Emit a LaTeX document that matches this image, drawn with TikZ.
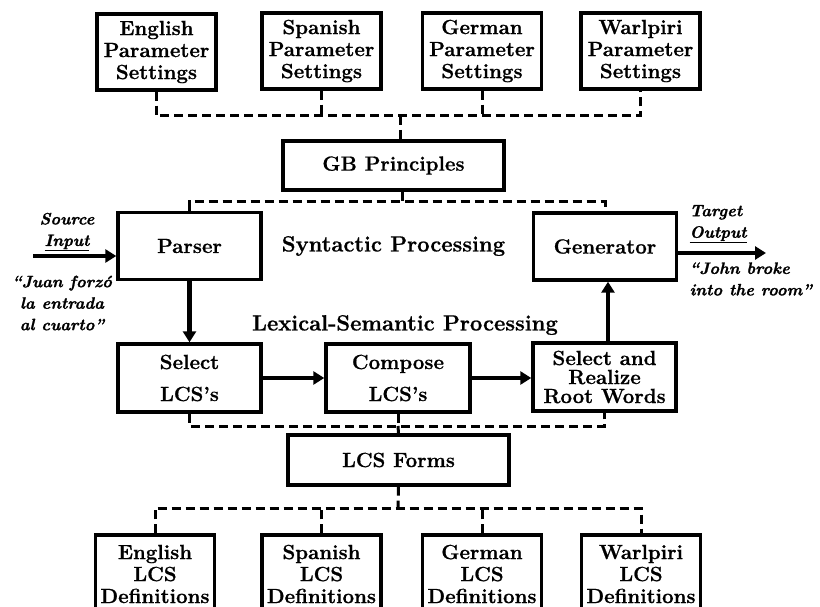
\documentclass[tikz,border=0pt]{standalone}
\usepackage{fontspec}
\setmainfont{Latin Modern Roman}[BoldFeatures={FakeBold=0.8},BoldItalicFeatures={FakeBold=1.2}]
\usetikzlibrary{arrows.meta}
\begin{document}
\begin{tikzpicture}[x=1pt,y=-1pt,
  box/.style={draw, line width=3.4pt, inner sep=0pt, align=center,
    font=\fontsize{20.5}{22}\selectfont\bfseries},
  langbox/.style={box, minimum width=119pt, minimum height=76pt},
  wide/.style={box, minimum width=221pt, minimum height=50pt},
  proc/.style={box, minimum width=143pt, minimum height=67pt},
  bus/.style={line width=3pt, dash pattern=on 9pt off 5pt},
  flow/.style={line width=4.6pt, -{Triangle[length=11pt,width=13pt]}},
  stage/.style={font=\fontsize{22}{24}\selectfont\bfseries},
  note/.style={align=center, font=\fontsize{16.5}{21.5}\selectfont\bfseries\itshape}]
\useasboundingbox (0,0) rectangle (820,607);
\clip (0,0) rectangle (820,607);

% parameter settings per language
\node[langbox] (ep) at (156.5,52) {English\\Parameter\\Settings};
\node[langbox] (sp) at (321.5,51) {Spanish\\Parameter\\Settings};
\node[langbox] (gp) at (482,51) {German\\Parameter\\Settings};
\node[langbox] (wp) at (640.5,51) {Warlpiri\\Parameter\\Settings};

\node[wide, minimum height=49pt] (gb) at (393.5,165.5) {GB Principles};

% syntactic level
\node[proc] (parser) at (189.5,246) {Parser};
\node[proc] (gen) at (605,246.5) {Generator};
\node[stage] (syn) at (393.5,246) {Syntactic Processing};

% lexical-semantic level
\node[stage] (lex) at (405,325) {Lexical-Semantic Processing};
\node[proc, minimum height=68pt] (sel) at (189.5,378) {Select\\[10pt]LCS’s};
\node[proc, minimum width=144pt, minimum height=68pt] (comp) at (398,378) {Compose\\[10pt]LCS’s};
\node[proc, minimum height=68pt] (real) at (604.5,377) {Select and\\[-3pt]Realize\\[-3pt]Root Words};

\node[wide] (forms) at (398.5,460) {LCS Forms};

% LCS definitions per language
\node[langbox, minimum height=78pt] (ed) at (155,574) {English\\LCS\\Definitions};
\node[langbox, minimum height=78pt] (sd) at (321.5,574) {Spanish\\LCS\\Definitions};
\node[langbox, minimum height=78pt] (gd) at (482,574) {German\\LCS\\Definitions};
\node[langbox, minimum height=78pt] (wd) at (641,574) {Warlpiri\\LCS\\Definitions};

% dashed links
\coordinate (tb) at (400,116);
\draw[bus] (ep.south) |- (tb) -| (wp.south);
\draw[bus] (sp.south) -- (sp.south |- tb);
\draw[bus] (gp.south) -- (gp.south |- tb);
\draw[bus] (tb) -- (tb |- gb.north);

\coordinate (mb) at (402,202);
\draw[bus] (mb |- gb.south) -- (mb);
\draw[bus] (parser.north) |- (mb) -| (gen.north);

\coordinate (lb) at (398,426);
\draw[bus] (sel.south) |- (lb) -| (real.south);
\draw[bus] (comp.south) -- (lb);
\draw[bus] (lb) -- (forms.north);

\coordinate (bb) at (398,508);
\draw[bus] (forms.south) -- (bb);
\draw[bus] (ed.north) |- (bb) -| (wd.north);
\draw[bus] (sd.north) -- (sd.north |- bb);
\draw[bus] (gd.north) -- (gd.north |- bb);

% processing flow
\draw[flow] (parser.south) -- (sel.north);
\draw[flow] (sel.east) -- (comp.west);
\draw[flow] (comp.east) -- (real.west |- comp.east);
\draw[flow] (real.north -| 608,0) -- (gen.south -| 608,0);

% input and output
\coordinate (src) at (33,256);
\draw[flow] (src) -- (parser.west |- src);
\coordinate (tgt) at (766,253);
\draw[flow] (gen.east |- tgt) -- (tgt);

\node[note] (srclab) at (67,232) {Source\\\underline{Input}};
\node[note] (srctxt) at (62,303) {``Juan forzó\\la entrada\\al cuarto''};
\node[note, align=left, anchor=west] (tgtlab) at (686,224) {Target\\\underline{Output}};
\node[note, align=left, anchor=west] (tgttxt) at (686,279) {``John broke\\into the room''};
\end{tikzpicture}
\end{document}
